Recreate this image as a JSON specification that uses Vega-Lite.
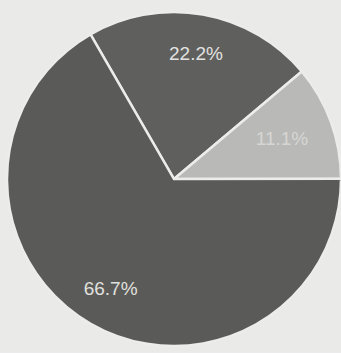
{
  "$schema": "https://vega.github.io/schema/vega-lite/v6.json",
  "width": 336,
  "height": 348,
  "autosize": "none",
  "padding": {"left": 6, "top": 5, "right": 0, "bottom": 0},
  "background": "#eaeae8",
  "data": {
    "values": [
      {"slice": "A", "order": 1, "value": 22.2, "label": "22.2%"},
      {"slice": "B", "order": 2, "value": 11.1, "label": "11.1%"},
      {"slice": "C", "order": 3, "value": 66.7, "label": "66.7%"}
    ]
  },
  "encoding": {
    "theta": {"field": "value", "type": "quantitative", "stack": true, "scale": {"range": [-0.5236, 5.7596]}},
    "order": {"field": "order", "type": "quantitative"}
  },
  "layer": [
    {
      "mark": {"type": "arc", "outerRadius": 167, "stroke": "#ececea", "strokeWidth": 2.5},
      "encoding": {
        "color": {
          "field": "slice", "type": "nominal", "legend": null,
          "scale": {"domain": ["A", "B", "C"], "range": ["#5f5f5d", "#b9b9b7", "#5a5a58"]}
        }
      }
    },
    {
      "mark": {"type": "text", "radius": 127, "font": "Liberation Sans", "fontSize": 19, "opacity": 1},
      "encoding": {
        "text": {"field": "label"},
        "color": {
          "field": "label", "type": "nominal", "legend": null,
          "scale": {"domain": ["22.2%", "11.1%", "66.7%"], "range": ["#e2e2e0", "#d6d6d4", "#e0e0de"]}
        },
        "opacity": {"condition": {"test": "datum.slice === 'B'", "value": 0}, "value": 1}
      }
    },
    {
      "mark": {"type": "text", "radius": 115, "font": "Liberation Sans", "fontSize": 19, "color": "#d6d6d4"},
      "encoding": {
        "text": {"field": "label"},
        "opacity": {"condition": {"test": "datum.slice === 'B'", "value": 1}, "value": 0}
      }
    }
  ],
  "resolve": {"scale": {"color": "independent"}}
}
